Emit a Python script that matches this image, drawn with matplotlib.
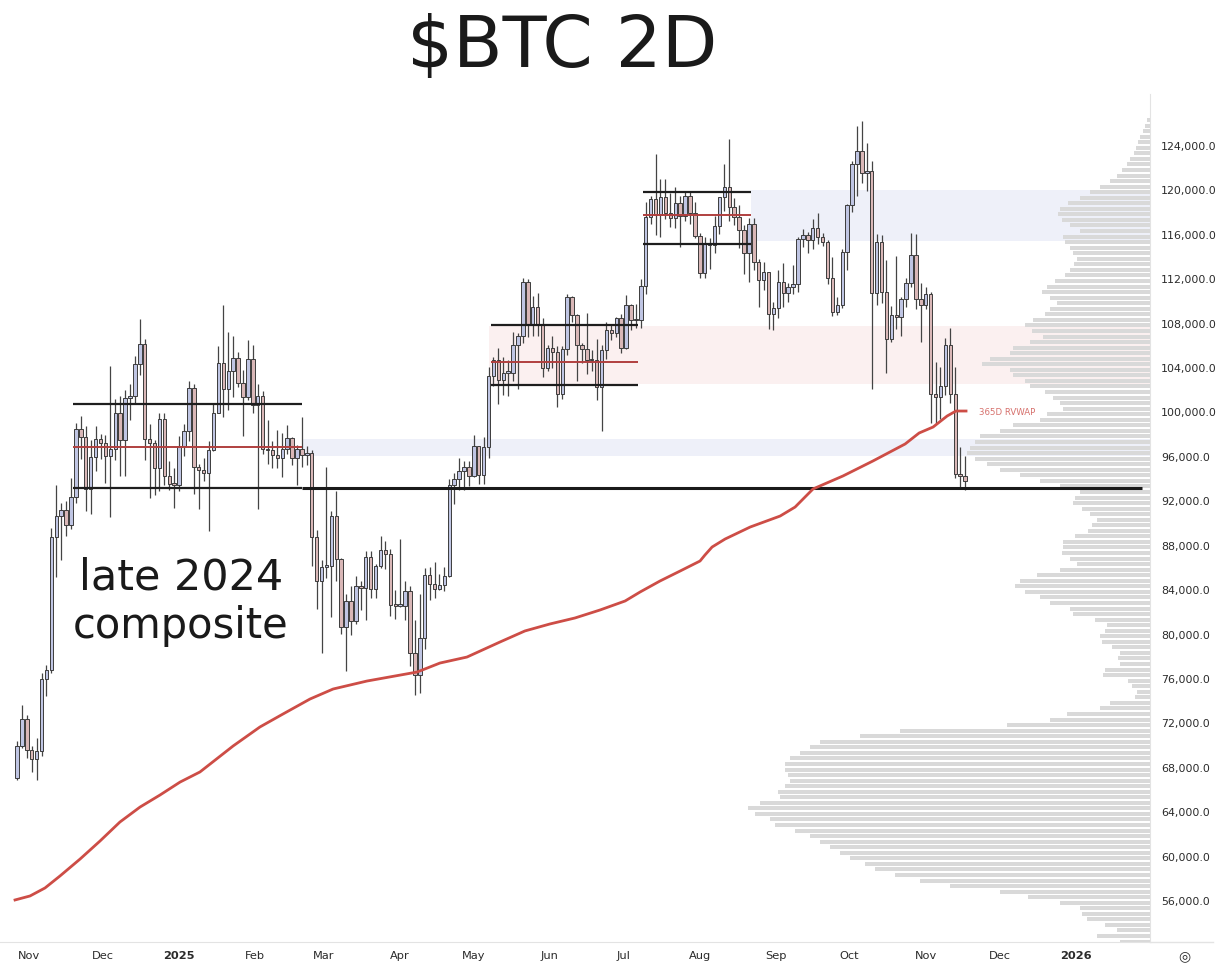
"""
$BTC 2D chart: candles, 365D RVWAP, ranges and a volume profile.
"""

import matplotlib
matplotlib.use("Agg")
import matplotlib.pyplot as plt
import matplotlib.dates as mdates
import numpy as np
import pandas as pd

# ── Data (prices in thousands of USD) ────────────────────────────────────────
START = "2024-10-27"          # open of first 2-day candle
FIRST_OPEN = 67.0

CLOSE = [
    69.9, 72.3, 69.5, 68.7, 69.4, 75.9, 76.7, 88.7, 90.6, 91.1,
    89.8, 92.3, 98.4, 97.7, 93.0, 95.9, 97.5, 97.2, 96.0, 96.6,
    99.9, 97.4, 101.2, 101.4, 104.3, 106.1, 97.5, 97.2, 94.9, 99.3,
    94.2, 93.5, 93.4, 96.9, 98.2, 102.1, 95.0, 94.7, 94.5, 96.5,
    99.9, 104.4, 102.0, 103.6, 104.8, 102.6, 101.3, 104.7, 100.6, 101.4,
    96.6, 96.5, 96.1, 95.8, 96.6, 97.6, 95.8, 96.6, 96.1, 96.3,
    88.7, 84.7, 86.0, 86.1, 90.6, 86.7, 80.6, 82.9, 81.1, 84.3,
    84.1, 86.9, 84.0, 86.1, 87.5, 87.2, 82.6, 82.5, 82.5, 83.8,
    78.2, 76.3, 79.6, 85.3, 84.5, 84.0, 84.4, 85.2, 93.4, 93.9,
    94.6, 95.0, 94.2, 96.9, 94.3, 96.8, 103.2, 104.6, 102.8, 103.5,
    103.5, 106.0, 106.8, 111.7, 107.8, 109.4, 107.8, 103.9, 105.7, 105.4,
    101.6, 105.6, 110.3, 108.7, 106.0, 105.6, 104.6, 104.6, 102.2, 105.5,
    107.3, 107.1, 108.4, 105.7, 109.6, 108.2, 108.2, 111.3, 117.5, 119.1,
    117.7, 119.3, 117.9, 117.4, 118.8, 117.6, 119.4, 117.9, 115.8, 112.5,
    115.1, 115.0, 116.7, 119.3, 120.2, 118.4, 117.5, 116.3, 114.3, 116.9,
    113.5, 111.8, 112.6, 108.8, 109.3, 111.7, 110.7, 111.2, 111.5, 115.5,
    115.9, 115.4, 116.5, 115.7, 115.3, 112.0, 109.0, 109.6, 114.4, 118.6,
    122.3, 123.5, 121.5, 121.7, 110.7, 115.3, 110.8, 106.5, 108.7, 108.5,
    110.1, 111.6, 114.1, 110.1, 109.6, 110.6, 101.6, 101.3, 102.3, 106.0,
    101.6, 94.4, 94.2, 93.7,
]
HIGH = [
    70.3, 73.6, 72.7, 69.9, 70.6, 76.4, 77.2, 89.5, 93.4, 91.8,
    91.9, 94.0, 99.0, 99.6, 98.7, 97.4, 98.7, 98.0, 97.9, 104.1,
    101.1, 101.4, 101.9, 102.5, 105.0, 108.3, 106.5, 98.9, 97.4, 99.9,
    99.9, 95.5, 94.9, 97.8, 98.9, 102.7, 102.5, 95.3, 95.8, 97.3,
    100.8, 105.9, 109.6, 107.2, 106.8, 105.4, 103.7, 106.4, 106.0, 102.5,
    101.8, 99.2, 97.3, 98.3, 98.1, 98.8, 97.7, 97.0, 99.5, 96.9,
    96.5, 89.3, 86.6, 95.0, 91.0, 92.8, 86.8, 83.6, 84.3, 85.2,
    84.7, 87.4, 87.4, 86.3, 88.8, 88.3, 87.6, 83.9, 88.5, 84.7,
    84.3, 81.2, 83.6, 85.9, 86.0, 86.4, 85.4, 86.0, 93.9, 94.5,
    95.8, 95.5, 95.5, 97.9, 96.9, 97.7, 104.0, 104.9, 105.7, 104.9,
    104.6, 107.2, 107.1, 112.0, 111.9, 110.4, 110.7, 108.4, 106.0, 106.8,
    105.9, 105.9, 110.6, 110.4, 108.8, 106.2, 108.9, 105.5, 106.5, 106.0,
    108.1, 107.8, 108.5, 108.8, 110.5, 109.7, 109.7, 111.9, 118.9, 119.4,
    123.2, 120.9, 120.9, 119.7, 120.2, 119.4, 119.8, 119.8, 118.9, 116.1,
    115.7, 115.6, 117.6, 119.3, 122.3, 124.5, 119.2, 118.6, 116.8, 117.4,
    117.4, 113.7, 113.5, 112.6, 109.9, 112.7, 113.4, 111.6, 113.2, 115.7,
    116.4, 116.2, 117.3, 117.9, 116.1, 115.4, 113.9, 110.3, 114.6, 118.7,
    122.6, 125.7, 126.2, 124.2, 122.6, 116.0, 115.9, 113.6, 109.5, 114.0,
    110.3, 112.0, 116.1, 116.0, 111.6, 111.2, 110.8, 104.5, 104.0, 106.6,
    107.5, 104.0, 96.8, 96.0,
]
LOW = [
    66.8, 69.7, 68.8, 67.5, 66.8, 69.0, 74.4, 76.4, 85.1, 86.6,
    88.8, 89.4, 91.8, 95.7, 91.0, 90.8, 94.6, 95.7, 93.6, 90.5,
    95.6, 94.2, 94.2, 99.2, 100.7, 103.3, 95.6, 92.2, 92.5, 92.8,
    93.4, 92.9, 91.3, 92.8, 96.0, 97.3, 92.6, 91.2, 93.7, 89.2,
    96.4, 99.9, 99.5, 100.1, 101.3, 102.2, 97.8, 101.0, 99.9, 91.2,
    96.2, 95.3, 94.9, 94.9, 94.1, 96.2, 95.2, 93.4, 95.0, 95.2,
    86.1, 82.2, 78.2, 85.0, 81.5, 84.7, 80.0, 76.6, 79.9, 80.9,
    82.1, 81.2, 83.2, 83.2, 85.9, 85.8, 81.6, 81.3, 82.4, 81.2,
    77.1, 74.5, 74.6, 78.6, 83.0, 83.2, 83.9, 83.8, 85.1, 91.7,
    92.9, 92.9, 93.3, 94.1, 93.5, 93.5, 95.8, 102.3, 100.7, 101.5,
    101.4, 102.7, 102.0, 106.2, 106.7, 106.8, 106.8, 103.1, 103.6, 103.9,
    100.4, 101.1, 105.1, 108.1, 102.7, 104.4, 103.4, 103.6, 101.0, 98.2,
    104.7, 106.4, 106.7, 105.3, 105.6, 107.3, 107.5, 107.5, 110.6, 116.9,
    115.9, 115.7, 117.3, 116.6, 116.5, 114.8, 117.2, 116.9, 115.6, 112.0,
    112.0, 112.8, 114.3, 116.0, 118.1, 117.2, 116.8, 114.7, 112.4, 111.7,
    112.7, 109.4, 110.9, 107.4, 107.3, 108.4, 109.4, 109.9, 110.6, 110.8,
    114.8, 114.3, 114.6, 115.1, 114.9, 111.5, 108.6, 108.7, 109.3, 112.7,
    118.0, 119.4, 120.6, 119.9, 102.0, 109.6, 109.8, 103.5, 106.3, 107.4,
    106.8, 109.4, 111.2, 109.2, 106.3, 109.2, 99.0, 98.9, 99.3, 101.5,
    100.8, 94.0, 93.0, 92.9,
]

# 365D rolling VWAP: days after START, value
RVWAP_DAY = [-0.8, 5.3, 11.4, 17.5, 25.7, 33.8, 41.9, 50.1, 58.2, 66.4,
             74.5, 88.0, 98.9, 108.3, 119.3, 128.7, 142.5, 162.9, 172.2,
             183.2, 196.7, 206.8, 217.0, 227.2, 237.4, 247.6, 253.7, 261.8,
             270.0, 278.1, 280.1, 283.0, 288.3, 298.5, 310.7, 316.8, 324.1,
             336.3, 348.5, 361.6, 367.3, 373.0, 378.7, 382.3, 386.4]
RVWAP = [56.00, 56.36, 57.08, 58.16, 59.69, 61.31, 63.02, 64.37, 65.45, 66.62,
         67.53, 69.87, 71.58, 72.75, 74.10, 75.00, 75.72, 76.53, 77.34,
         77.88, 79.24, 80.23, 80.86, 81.40, 82.12, 82.93, 83.74, 84.73,
         85.63, 86.53, 87.07, 87.79, 88.51, 89.59, 90.58, 91.39, 93.02,
         94.19, 95.54, 97.07, 98.06, 98.60, 99.59, 100.04, 100.04]

# volume profile, rows of 0.5k starting at PROFILE_BOTTOM (length in px units)
PROFILE_BOTTOM = 52.0
PROFILE = [
    30, 53, 33, 45, 63, 68, 70, 90, 122, 150,            # 52 - 56.5
    200, 230, 255, 275, 285, 300, 310, 320, 330, 340,    # 57 - 61.5
    355, 375, 380, 395, 402, 390, 370, 372, 365, 360,    # 62 - 66.5
    362, 365, 365, 360, 350, 340, 330, 290, 250, 143,    # 67 - 71.5
    100, 83, 50, 40, 15, 13, 18, 22, 47, 45,             # 72 - 76.5
    30, 32, 30, 38, 48, 50, 45, 43, 55, 77,              # 77 - 81.5
    80, 100, 110, 125, 135, 130, 113, 90, 73, 80,        # 82 - 86.5
    88, 87, 87, 75, 62, 58, 53, 60, 68, 77,              # 87 - 91.5
    75, 70, 90, 110, 130, 150, 163, 175, 183, 180,       # 92 - 96.5
    175, 170, 150, 137, 110, 103, 87, 90, 97, 105,       # 97 - 101.5
    120, 125, 137, 140, 168, 160, 140, 137, 120, 107,    # 102 - 106.5
    118, 125, 117, 105, 100, 93, 100, 108, 103, 95,      # 107 - 111.5
    85, 80, 76, 73, 77, 80, 85, 87, 70, 80,              # 112 - 116.5
    88, 92, 90, 82, 70, 60, 50, 40, 33, 28,              # 117 - 121.5
    23, 20, 16, 14, 12, 10, 7, 5, 3,                     # 122 - 126
]

# horizontal levels: (price, start, end, colour key)
LEVELS = [
    (100.7, "2024-11-19", "2025-02-20", "black"),
    (96.76, "2024-11-19", "2025-02-20", "red"),
    (93.1, "2024-11-19", "2025-02-20", "black"),
    (107.8, "2025-05-08", "2025-07-07", "black"),
    (104.5, "2025-05-08", "2025-07-07", "red"),
    (102.4, "2025-05-08", "2025-07-07", "black"),
    (119.8, "2025-07-09", "2025-08-22", "black"),
    (117.7, "2025-07-09", "2025-08-22", "red"),
    (115.1, "2025-07-09", "2025-08-22", "black"),
]
SUPPORT = (93.1, "2025-02-20", "2026-01-28")

# shaded zones: (low, high, start, colour key)
ZONES = [
    (115.35, 119.95, "2025-08-22", "blue"),
    (102.47, 107.70, "2025-05-07", "pink"),
    (95.99, 97.52, "2025-02-20", "blue"),
]

# ── Style ─────────────────────────────────────────────────────────────────────
UP_FILL   = "#bfc5e3"
DOWN_FILL = "#d9b7b7"
EDGE      = "#3c3c3c"
WICK      = "#444444"
RED_LINE  = "#b0403f"
RVWAP_C   = "#cd4d46"
ZONE_C    = {"blue": "#eef0f9", "pink": "#fbf0f0"}
LINE_C    = {"black": "#1e1e1e", "red": RED_LINE}
PROF_C    = "#d9d9d9"
SEP_C     = "#e3e3e3"
TEXT_C    = "#2b2b2b"
PX_PER_DAY = 2.456

W, H = 1219, 979
fig = plt.figure(figsize=(W / 100, H / 100), dpi=100)
fig.patch.set_facecolor("white")

# main chart occupies px x 0..1150, y 95..943
ax = fig.add_axes([0, (H - 943) / H, 1150 / W, (943 - 95) / H])
ax.set_facecolor("white")

t0 = mdates.date2num(pd.Timestamp(START))
x_left, x_right = t0 - 6.92, t0 + 461.3
ax.set_xlim(x_left, x_right)
ax.set_ylim(52.214, 128.594)

# zones
for lo, hi, start, key in ZONES:
    xs = mdates.date2num(pd.Timestamp(start))
    ax.fill_between([xs, x_right], lo, hi, color=ZONE_C[key], lw=0, zorder=0)

# volume profile, growing leftwards from the right edge
levels = PROFILE_BOTTOM + 0.5 * np.arange(len(PROFILE)) + 0.25
widths = np.array(PROFILE) / PX_PER_DAY
ax.barh(levels, widths, height=0.36, left=x_right - widths, color=PROF_C,
        lw=0, zorder=1)

# candles
dates = pd.date_range(START, periods=len(CLOSE), freq="2D")
x = mdates.date2num(dates)
closes = np.array(CLOSE)
opens = np.array([FIRST_OPEN] + CLOSE[:-1])
up = closes >= opens
body_lo = np.minimum(opens, closes)
body_h = np.maximum(np.abs(closes - opens), 0.15)

ax.vlines(x, LOW, HIGH, color=WICK, lw=0.9, zorder=3)
ax.bar(x[up], body_h[up], bottom=body_lo[up], width=1.4, color=UP_FILL,
       edgecolor=EDGE, linewidth=0.7, zorder=4)
ax.bar(x[~up], body_h[~up], bottom=body_lo[~up], width=1.4, color=DOWN_FILL,
       edgecolor=EDGE, linewidth=0.7, zorder=4)

# levels
for price, a, b, key in LEVELS:
    xa = mdates.date2num(pd.Timestamp(a))
    xb = mdates.date2num(pd.Timestamp(b))
    ax.plot([xa, xb], [price, price], color=LINE_C[key],
            lw=1.6 if key == "black" else 1.4, zorder=5, solid_capstyle="butt")
p, a, b = SUPPORT
ax.plot([mdates.date2num(pd.Timestamp(a)), mdates.date2num(pd.Timestamp(b))],
        [p, p], color="#1a1a1a", lw=2.2, zorder=5, solid_capstyle="butt")

# RVWAP
ax.plot(t0 + np.array(RVWAP_DAY), RVWAP, color=RVWAP_C, lw=2.0, zorder=6,
        solid_joinstyle="round")
ax.text(t0 + 391.5, RVWAP[-1], "365D RVWAP", color="#d6706c", fontsize=6.2,
        va="center", ha="left", zorder=6)

# axes cosmetics
for s in ["top", "left"]:
    ax.spines[s].set_visible(False)
ax.spines["bottom"].set_color(SEP_C)
ax.spines["right"].set_color(SEP_C)

ax.yaxis.tick_right()
yt = np.arange(56, 125, 4)
ax.set_yticks(yt)
ax.set_yticklabels([f"{v * 1000:,.1f}" for v in yt], fontsize=7.9, color=TEXT_C)
ax.tick_params(axis="y", length=0, pad=8)

months = pd.date_range("2024-11-01", "2026-01-01", freq="MS")
ax.set_xticks(mdates.date2num(months))
ax.set_xticklabels([str(m.year) if m.month == 1 else m.strftime("%b")
                    for m in months], fontsize=8.2, color=TEXT_C)
for lab, m in zip(ax.get_xticklabels(), months):
    if m.month == 1:
        lab.set_fontweight("bold")
ax.tick_params(axis="x", length=0, pad=6)

# bottom separator under price scale
fig.add_artist(plt.Line2D([1150 / W, 1213 / W], [(H - 943) / H] * 2,
                          color=SEP_C, lw=1))
fig.text(1184 / W, 1 - 956 / H, "\u25CE", fontsize=10, color=TEXT_C,
         ha="center", va="center")

# titles / annotations
fig.text(562 / W, 1 - 48 / H, r"\$BTC 2D", fontsize=52, color="#1a1a1a",
         ha="center", va="center")
fig.text(181 / W, 1 - 590 / H, "late 2024", fontsize=31, color="#1a1a1a",
         ha="center", va="baseline")
fig.text(181 / W, 1 - 638 / H, "composite", fontsize=30, color="#1a1a1a",
         ha="center", va="baseline")

fig.savefig("out.png", dpi=100, facecolor="white")
